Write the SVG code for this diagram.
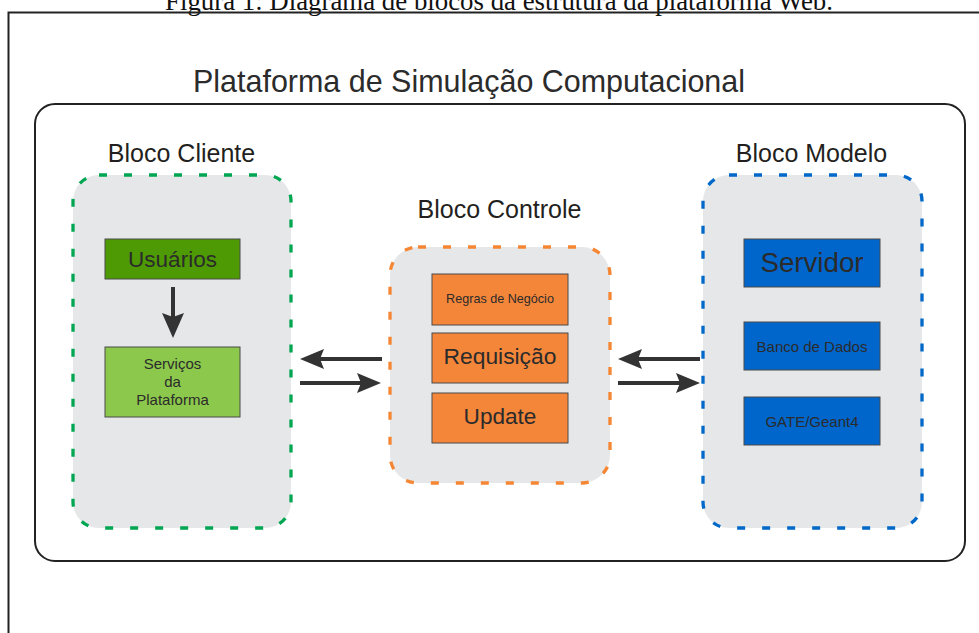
<svg xmlns="http://www.w3.org/2000/svg" width="979" height="633" viewBox="0 0 979 633">
<style>
  text { font-family: "Liberation Sans", Arial, sans-serif; fill: #2b2b2b; text-anchor: middle; }
  .caption { font-family: "Liberation Serif", "Times New Roman", serif; font-size: 26.7px; fill: #111; }
  .frame { fill: none; stroke: #222; stroke-width: 2; }
  .inner { fill: #ffffff; stroke: #222; stroke-width: 2; }
  .label { font-size: 25px; fill: #231f20; }
  .area { fill: #e6e7e8; stroke-width: 3.3; stroke-dasharray: 8 17; }
  .green { stroke: #00a651; }
  .orange { stroke: #f58634; }
  .blue { stroke: #0068c9; }
  .box { stroke: #4a4a4a; stroke-width: 1; }
  .dkgreen { fill: #4e9a04; }
  .ltgreen { fill: #8cc84b; }
  .org { fill: #f4863a; }
  .blu { fill: #0066cc; }
  .line { stroke: #333; stroke-width: 4; fill: none; }
  .head { fill: #333; }
</style>

<text class="caption" x="499" y="9.5" textLength="668" lengthAdjust="spacingAndGlyphs">Figura 1: Diagrama de blocos da estrutura da plataforma Web.</text>
<rect class="frame" x="8.5" y="12.5" width="1000" height="700"/>

<g id="platform">
  <rect class="inner" x="35" y="104" width="930" height="457" rx="20"/>
  <text x="469" y="92" font-size="32" fill="#231f20" textLength="552" lengthAdjust="spacingAndGlyphs">Plataforma de Simulação Computacional</text>
</g>

<g id="bloco-cliente">
  <text class="label" x="181.5" y="162">Bloco Cliente</text>
  <rect class="area green" x="73" y="175" width="218" height="353" rx="26"/>
</g>
<g id="usuarios">
  <rect class="box dkgreen" x="105" y="239" width="135" height="40"/>
  <text x="172.5" y="267" font-size="22.5">Usuários</text>
</g>
<g id="servicos">
  <rect class="box ltgreen" x="105" y="347" width="135" height="70"/>
  <text x="172.5" y="369" font-size="15">Serviços</text>
  <text x="172.5" y="387" font-size="15">da</text>
  <text x="172.5" y="405" font-size="15">Plataforma</text>
</g>

<g id="bloco-controle">
  <text class="label" x="499.5" y="218">Bloco Controle</text>
  <rect class="area orange" x="390" y="247" width="220" height="236" rx="28"/>
</g>
<g id="regras">
  <rect class="box org" x="432" y="274" width="136" height="51"/>
  <text x="500" y="303" font-size="12.6">Regras de Negócio</text>
</g>
<g id="requisicao">
  <rect class="box org" x="432" y="333" width="136" height="50"/>
  <text x="500" y="364" font-size="22.8">Requisição</text>
</g>
<g id="update">
  <rect class="box org" x="432" y="393" width="136" height="50"/>
  <text x="500" y="424" font-size="22.6">Update</text>
</g>

<g id="bloco-modelo">
  <text class="label" x="811.5" y="162">Bloco Modelo</text>
  <rect class="area blue" x="703" y="175" width="219" height="353" rx="26"/>
</g>
<g id="servidor">
  <rect class="box blu" x="744" y="239" width="136" height="48"/>
  <text x="812" y="272" font-size="27.7">Servidor</text>
</g>
<g id="banco">
  <rect class="box blu" x="744" y="322" width="136" height="48"/>
  <text x="812" y="352" font-size="15">Banco de Dados</text>
</g>
<g id="gate">
  <rect class="box blu" x="744" y="397" width="136" height="48"/>
  <text x="812" y="427" font-size="15">GATE/Geant4</text>
</g>

<g id="connectors">
  <!-- Usuarios -> Servicos -->
  <line class="line" x1="173" y1="287" x2="173" y2="318"/>
  <path class="head" d="M173 338 L162 313 L173 317 L184 313 Z"/>
  <!-- Controle -> Cliente -->
  <line class="line" x1="382" y1="359" x2="318" y2="359"/>
  <path class="head" d="M300 359 L324 349 L320 359 L324 369 Z"/>
  <!-- Cliente -> Controle -->
  <line class="line" x1="300" y1="383" x2="362" y2="383"/>
  <path class="head" d="M381 383 L357 373 L361 383 L357 393 Z"/>
  <!-- Modelo -> Controle -->
  <line class="line" x1="700" y1="359" x2="636" y2="359"/>
  <path class="head" d="M618 359 L642 349 L638 359 L642 369 Z"/>
  <!-- Controle -> Modelo -->
  <line class="line" x1="618" y1="383" x2="681" y2="383"/>
  <path class="head" d="M700 383 L676 373 L680 383 L676 393 Z"/>
</g>
</svg>
